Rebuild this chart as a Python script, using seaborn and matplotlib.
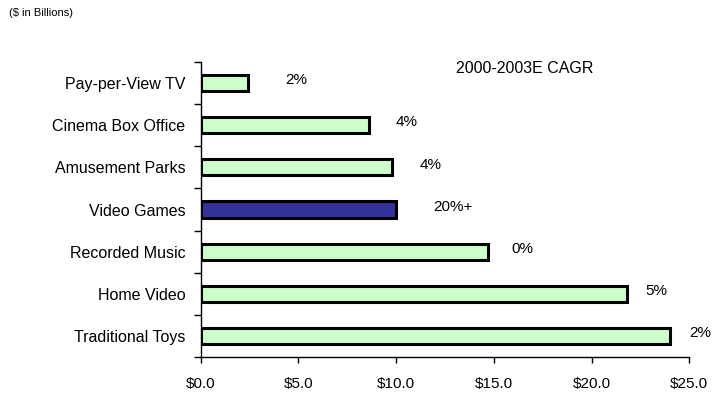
import matplotlib
matplotlib.use("Agg")
import matplotlib.pyplot as plt
import seaborn as sns
import numpy as np
import pandas as pd

# Market size by segment ($ billions) and 2000-2003E CAGR
categories = ["Pay-per-View TV", "Cinema Box Office", "Amusement Parks", "Video Games",
              "Recorded Music", "Home Video", "Traditional Toys"]
values = [2.4, 8.6, 9.8, 10.0, 14.7, 21.8, 24.0]
cagr_labels = ["2%", "4%", "4%", "20%+", "0%", "5%", "2%"]
x_ticks = [0, 5, 10, 15, 20, 25]
x_tick_labels = ["$0.0", "$5.0", "$10.0", "$15.0", "$20.0", "$25.0"]

# Styling
highlight = "Video Games"
bar_colors = {c: ("#333399" if c == highlight else "#CCFFCC") for c in categories}
label_dx_pt = [27, 19, 20, 27, 17, 13, 14]

sns.set_theme(style="white")
plt.rcParams["font.family"] = ["Liberation Sans", "DejaVu Sans"]

df = pd.DataFrame({"segment": categories, "value": values})

fig = plt.figure(figsize=(7.2, 3.94), dpi=100)
ax = fig.add_axes([0.2788, 0.0931, 0.6786, 0.7503])

sns.barplot(data=df, x="value", y="segment", hue="segment", palette=bar_colors,
            legend=False, width=0.38, edgecolor="black", linewidth=2.2,
            saturation=1, ax=ax)

ax.set_xlim(0, 25)
ax.set_ylim(6.5, -0.5)
ax.set_xlabel("")
ax.set_ylabel("")

for s in ["top", "right"]:
    ax.spines[s].set_visible(False)
for s in ["left", "bottom"]:
    ax.spines[s].set_color("black")
    ax.spines[s].set_linewidth(1.0)

ax.set_xticks(x_ticks)
ax.set_xticklabels(x_tick_labels)
ax.tick_params(axis="x", bottom=True, length=4, width=1.0, color="black",
               direction="out", pad=10, labelsize=11, labelcolor="black")

ax.set_yticks(range(len(categories)))
ax.set_yticklabels(categories)
ax.tick_params(axis="y", which="major", left=False, length=0, pad=11,
               labelsize=11.5, labelcolor="black")
ax.set_yticks(np.arange(-0.5, len(categories), 1.0), minor=True)
ax.tick_params(axis="y", which="minor", left=True, length=5, width=1.0,
               color="black", direction="out")

for i, (v, lab, dx) in enumerate(zip(values, cagr_labels, label_dx_pt)):
    ax.annotate(lab, xy=(v, i), xytext=(dx, 2), textcoords="offset points",
                ha="left", va="center", fontsize=11, color="black")

fig.text(0.729, 0.827, "2000-2003E CAGR", ha="center", va="center",
         fontsize=11.5, color="black")
fig.text(0.013, 0.967, "($ in Billions)", ha="left", va="center",
         fontsize=8, color="black")

fig.savefig("out.png", dpi=100, facecolor="white")
